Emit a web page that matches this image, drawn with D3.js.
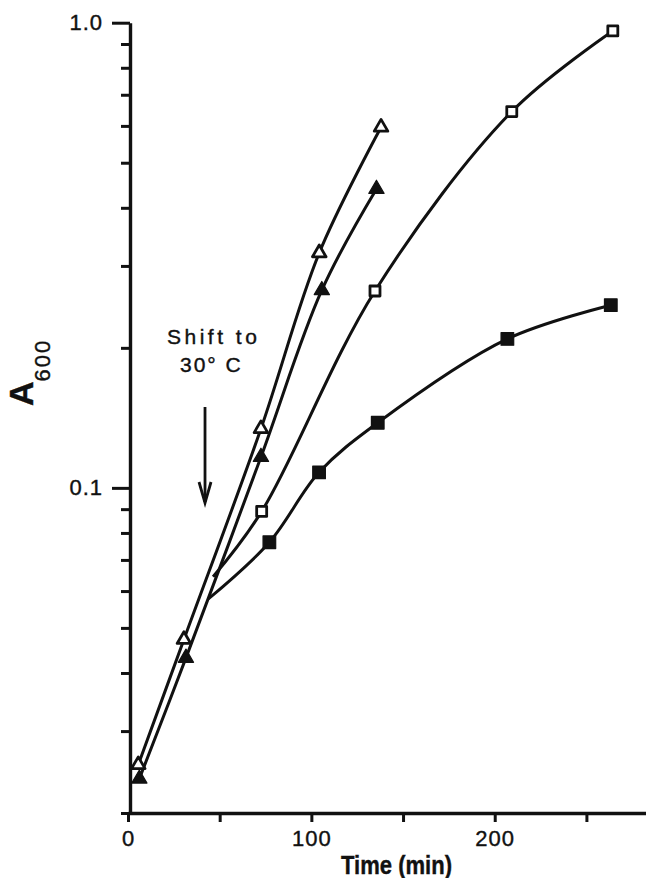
<!DOCTYPE html>
<html>
<head>
<meta charset="utf-8">
<style>
    body { margin: 0; background: #fff; }
    svg { display: block; font-family: "Liberation Sans", Arial, Helvetica, sans-serif; }
    .axis .domain { stroke: #111; stroke-width: 3.4px; }
    .axis .tick line { stroke: #111; stroke-width: 3px; }
    .axis .tick text { fill: #111; font-size: 22px; letter-spacing: 1px; stroke: #111; stroke-width: 0.4px; }
    .lbl { fill: #111; stroke: #111; stroke-width: 0.4px; }
</style>
</head>
<body>
<svg width="646" height="878"></svg>
<script src="https://d3js.org/d3.v7.min.js"></script>
<script>
    // values (time in min, A600)
    const tOpenTri = [5.6, 30.5, 72.5, 104.3, 138.0]
    const aOpenTri = [0.0254, 0.0472, 0.134, 0.320, 0.596]

    const tFillTri = [6.2, 31.6, 72.5, 105.7, 135.5]
    const aFillTri = [0.0237, 0.0431, 0.1165, 0.266, 0.439]

    // first entry of the square series = where the curve leaves the triangle curves (no marker)
    const tOpenSq = [46.4, 72.9, 134.7, 209.3, 264.4]
    const aOpenSq = [0.0644, 0.089, 0.265, 0.644, 0.960]

    const tFillSq = [43.8, 77.1, 104.2, 136.2, 206.9, 263.3]
    const aFillSq = [0.0577, 0.0764, 0.108, 0.138, 0.209, 0.247]

    const shiftTime = 42

    const xTicks = [0, 50, 100, 150, 200, 250]
    const xLabels = [0, 100, 200]
    const yTicks = [0.02, 0.03, 0.04, 0.05, 0.06, 0.07, 0.08, 0.09,
                    0.1, 0.2, 0.3, 0.4, 0.5, 0.6, 0.7, 0.8, 0.9, 1.0]
    const yLabelVals = [0.1, 1.0]
    const yLabelText = ["0.1", "1.0"]

    let svg = d3.select("svg")

    let x = d3.scaleLinear()
        .domain([0, 282.5])
        .range([128, 646])

    let y = d3.scaleLog()
        .domain([0.02, 1])
        .range([813, 22.7])

    // x axis
    let xAxis = d3.axisBottom(x)
        .tickValues(xTicks)
        .tickSize(9)
        .tickSizeOuter(0)
        .tickPadding(8)
        .tickFormat(d => xLabels.includes(d) ? d : "")

    svg.append("g")
        .attr("class", "x axis")
        .attr("transform", `translate(0,${y(0.02)})`)
        .call(xAxis)

    // y axis
    let yAxis = d3.axisLeft(y)
        .tickValues(yTicks)
        .tickSize(18)
        .tickSizeOuter(0)
        .tickPadding(9)
        .tickFormat(d => {
            let i = yLabelVals.findIndex(v => Math.abs(v - d) < 1e-9)
            return i >= 0 ? yLabelText[i] : ""
        })

    let yG = svg.append("g")
        .attr("class", "y axis")
        .attr("transform", "translate(130,0)")
        .call(yAxis)

    // minor ticks are shorter
    yG.selectAll(".tick line")
        .attr("x2", d => yLabelVals.some(v => Math.abs(v - d) < 1e-9) ? -18 : -9)

    // lines
    let line = d3.line()
        .x(d => x(d.t))
        .y(d => y(d.a))
        .curve(d3.curveCatmullRom.alpha(0.5))

    function pairs(ts, as) {
        return ts.map((t, i) => ({ t: t, a: as[i] }))
    }

    let series = [
        { name: "openTri", pts: pairs(tOpenTri, aOpenTri), from: 0 },
        { name: "fillTri", pts: pairs(tFillTri, aFillTri), from: 0 },
        { name: "openSq", pts: pairs(tOpenSq, aOpenSq), from: 1 },
        { name: "fillSq", pts: pairs(tFillSq, aFillSq), from: 1 }
    ]

    svg.append("g")
        .selectAll("path")
        .data(series)
        .join("path")
        .attr("d", d => line(d.pts))
        .style("fill", "none")
        .style("stroke", "#111")
        .style("stroke-width", 3)

    // markers
    let symbols = {
        openTri: d3.symbol().type(d3.symbolTriangle).size(80),
        fillTri: d3.symbol().type(d3.symbolTriangle).size(100),
        openSq: d3.symbol().type(d3.symbolSquare).size(100),
        fillSq: d3.symbol().type(d3.symbolSquare).size(160)
    }

    series.forEach(s => {
        let open = s.name.startsWith("open")
        svg.append("g")
            .selectAll("path")
            .data(s.pts.slice(s.from))
            .join("path")
            .attr("transform", d => `translate(${x(d.t)},${y(d.a)})`)
            .attr("d", symbols[s.name]())
            .style("fill", open ? "#fff" : "#111")
            .style("stroke", "#111")
            .style("stroke-width", open ? 2.8 : 1.2)
            .style("stroke-linejoin", "round")
    })

    // shift annotation
    svg.append("text")
        .attr("class", "lbl")
        .attr("x", 167)
        .attr("y", 344)
        .style("font-size", "21px")
        .style("letter-spacing", "3.5px")
        .text("Shift to")

    svg.append("text")
        .attr("class", "lbl")
        .attr("x", 180)
        .attr("y", 372)
        .style("font-size", "21px")
        .style("letter-spacing", "2px")
        .text("30° C")

    let ax = x(shiftTime)
    svg.append("line")
        .attr("x1", ax).attr("x2", ax)
        .attr("y1", 407).attr("y2", 502)
        .style("stroke", "#111")
        .style("stroke-width", 2.8)

    svg.append("path")
        .attr("d", `M${ax - 6},${482} L${ax},${503} L${ax + 6},${482}`)
        .style("fill", "none")
        .style("stroke", "#111")
        .style("stroke-width", 2.8)

    // axis titles
    let yTitle = svg.append("text")
        .attr("class", "lbl")
        .attr("transform", "translate(33,406) rotate(-90)")

    yTitle.append("tspan")
        .style("font-size", "34px")
        .style("font-weight", "bold")
        .text("A")

    yTitle.append("tspan")
        .attr("dy", 17)
        .style("font-size", "22px")
        .style("letter-spacing", "2px")
        .text("600")

    svg.append("text")
        .attr("class", "lbl")
        .attr("x", 341)
        .attr("y", 874)
        .attr("textLength", 111)
        .attr("lengthAdjust", "spacingAndGlyphs")
        .style("font-size", "25px")
        .style("font-weight", "bold")
        .text("Time (min)")
</script>
</body>
</html>
